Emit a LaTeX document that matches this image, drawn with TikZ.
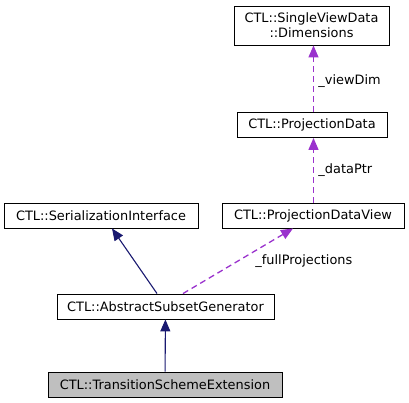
\documentclass[tikz,border=0pt]{standalone}
\usepackage{fontspec}
\setmainfont{DejaVu Sans}
\usetikzlibrary{positioning}
\usetikzlibrary{arrows.meta}
\definecolor{azulnoche}{HTML}{191970}
\definecolor{morado}{HTML}{9A32CD}

\begin{document}
\begin{tikzpicture}[x=1pt, y=-1pt,
    every node/.style={font=\fontsize{12.9}{15}\selectfont},
    clase/.style={draw, rectangle, line width=0.9pt, inner sep=0pt, minimum height=25pt},
    herencia/.style={-{Triangle[length=12pt, width=10pt]}, line width=1.1pt, draw=azulnoche},
    uso/.style={-{Triangle[length=12pt, width=10pt]}, line width=1.3pt, draw=morado, dash pattern=on 6pt off 4pt}]
            \useasboundingbox (0,0) rectangle (409,403);
            % Nodos
            \node[clase, minimum width=155pt, minimum height=39pt, align=center] (dim) at (311.5,25.5) {CTL::SingleViewData\\::Dimensions};
            \node[clase, minimum width=150pt] (pd) at (312,125) {CTL::ProjectionData};
            \node[clase, minimum width=182pt] (pdv) at (313,215.5) {CTL::ProjectionDataView};
            \node[clase, minimum width=194pt] (si) at (101,215.5) {CTL::SerializationInterface};
            \node[clase, minimum width=217pt] (asg) at (165.5,306.5) {CTL::AbstractSubsetGenerator};
            \node[clase, minimum width=234pt, fill=black!25] (tse) at (165,384.5) {CTL::TransitionSchemeExtension};

            % Aristas
            \draw[herencia] (tse) -- (asg);
            \draw[herencia] ([xshift=-8.5pt]asg.north) -- ([xshift=11pt]si.south);
            \draw[uso] ([xshift=17.5pt]asg.north) -- node[pos=0.55, right=8pt, yshift=-3pt] (lfp) {\_fullProjections} ([xshift=-20pt]pdv.south);
            \draw[uso] ([xshift=0.5pt]pdv.north) -- node[right=1pt] (ldp) {\_dataPtr} ([xshift=0.5pt]pdv.north |- pd.south);
            \draw[uso] ([xshift=1.5pt]pd.north) -- node[right=1pt, yshift=-2pt] (lvd) {\_viewDim} ([xshift=1.5pt]pd.north |- dim.south);
\end{tikzpicture}
\end{document}
